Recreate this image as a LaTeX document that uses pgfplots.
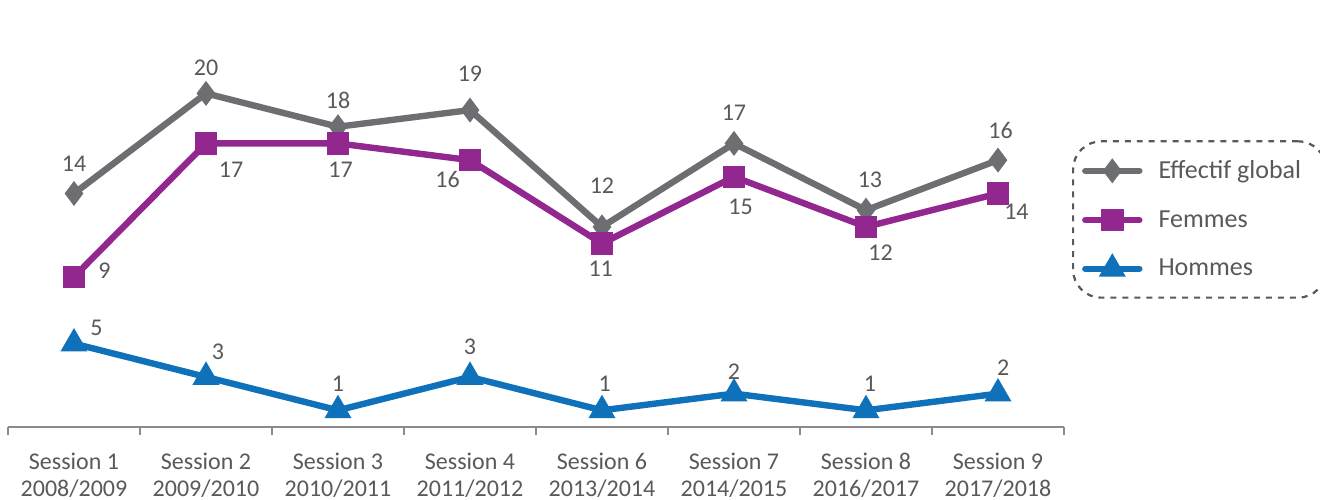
\documentclass[border=0pt]{standalone}
\usepackage{pgfplots}
\pgfplotsset{compat=1.18}
\usepackage{fontspec}
\setmainfont{Carlito}
\definecolor{cgray}{HTML}{6D6E71}
\definecolor{cpurple}{HTML}{92278F}
\definecolor{cblue}{HTML}{0F71BA}
\definecolor{ctext}{HTML}{595959}
\definecolor{cgrid}{HTML}{D9D9D9}
\newcommand{\lbl}{\fontsize{12bp}{13.5bp}\selectfont}
\newcommand{\leg}{\fontsize{13bp}{15bp}\selectfont}
\begin{document}
\begin{tikzpicture}
\path[use as bounding box] (-4bp,-36.5bp) rectangle (656bp,213.5bp);
\begin{axis}[
    scale only axis,
    width=528bp, height=208.5bp,
    xmin=-0.5, xmax=7.5,
    ymin=0, ymax=25,
    axis x line*=bottom,
    axis y line=none,
    ytick={5,10,15,20,25},
    ymajorgrids,
    grid style={cgrid, line width=0.8bp},
    xtick={0,...,7},
    xticklabels={{Session 1\\2008/2009},{Session 2\\2009/2010},{Session 3\\2010/2011},{Session 4\\2011/2012},{Session 6\\2013/2014},{Session 7\\2014/2015},{Session 8\\2016/2017},{Session 9\\2017/2018}},
    major tick length=0pt,
    minor xtick={-0.5,0.5,...,7.5},
    minor tick length=4bp,
    tick align=outside,
    tick style={cgray!80, line width=0.8bp},
    axis line style={cgray!80, line width=0.8bp},
    xticklabel style={align=center, font=\lbl, text=ctext, yshift=-9.5bp},
    clip=false,
    legend style={at={(1.0076,0.4976)}, anchor=west, draw=ctext, dashed, line width=1.1bp, rounded corners=14bp, font=\leg, text=ctext, inner xsep=4.5bp, inner ysep=7.5bp, row sep=10.5bp, legend cell align=left,
      nodes={inner xsep=8bp}},
    legend image code/.code={\draw[#1, solid, line cap=round] (0bp,0bp) -- (13.5bp,0bp) plot coordinates {(13.5bp,0bp)} -- (27bp,0bp);},
]
\addplot[cgray, line width=3.2bp, mark=diamond*, mark size=3.6bp, mark options={solid}] coordinates {
  (0,14) (1,20) (2,18) (3,19) (4,12) (5,17) (6,13) (7,16)};
\addlegendentry{Effectif global}
\addplot[cpurple, line width=3.2bp, mark=square*, mark size=4bp, mark options={solid}] coordinates {
  (0,9) (1,17) (2,17) (3,16) (4,11) (5,15) (6,12) (7,14)};
\addlegendentry{Femmes}
\addplot[cblue, line width=3.2bp, mark=triangle*, mark size=4.6bp, mark options={solid}] coordinates {
  (0,5) (1,3) (2,1) (3,3) (4,1) (5,2) (6,1) (7,2)};
\addlegendentry{Hommes}
\begin{scope}[every node/.style={font=\lbl, text=ctext}]
\node at (axis cs:0,15.77) {14};
\node at (axis cs:1,21.52) {20};
\node at (axis cs:2,19.60) {18};
\node at (axis cs:3,21.16) {19};
\node at (axis cs:4,14.45) {12};
\node at (axis cs:5,18.82) {17};
\node at (axis cs:6.03,14.81) {13};
\node at (axis cs:7.02,17.75) {16};
\node at (axis cs:0.23,9.35) {9};
\node at (axis cs:1.19,15.41) {17};
\node at (axis cs:2.02,15.41) {17};
\node at (axis cs:2.83,14.81) {16};
\node at (axis cs:3.99,9.47) {11};
\node at (axis cs:5.05,13.19) {15};
\node at (axis cs:6.11,10.43) {12};
\node at (axis cs:7.14,12.89) {14};
\node at (axis cs:0.17,5.94) {5};
\node at (axis cs:1.09,4.50) {3};
\node at (axis cs:2,2.58) {1};
\node at (axis cs:3,4.80) {3};
\node at (axis cs:4.02,2.58) {1};
\node at (axis cs:5,3.30) {2};
\node at (axis cs:6.03,2.58) {1};
\node at (axis cs:7.04,3.54) {2};
\end{scope}
\end{axis}
\end{tikzpicture}
\end{document}
